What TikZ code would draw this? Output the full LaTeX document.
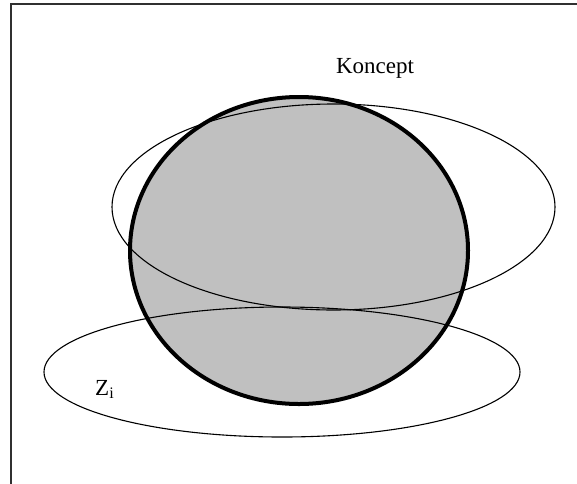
\documentclass[tikz,border=0pt]{standalone}
\usepackage{fontspec}
\setmainfont{Liberation Serif}
\definecolor{ballgray}{HTML}{C0C0C0}
\definecolor{framegray}{HTML}{303030}
\tikzset{
  framelines/.style={draw=framegray, line width=1.5pt},
  thinring/.style={draw=black, line width=1.1pt},
  ballrim/.style={draw=black, line width=4pt},
  label/.style={font=\fontsize{23}{26}\selectfont, inner sep=0pt}
}
\begin{document}
\begin{tikzpicture}[x=1pt,y=-1pt]
\useasboundingbox (0,0) rectangle (577,483);
\fill[white] (0,0) rectangle (577,483);
\draw[framelines] (11,490) -- (11,4) -- (590,4);
\fill[ballgray] (299,250.5) ellipse [x radius=169, y radius=153.5];
\draw[thinring] (333.5,207) ellipse [x radius=221.5, y radius=103];
\draw[thinring] (282,372) ellipse [x radius=238, y radius=65];
\draw[ballrim] (299,250.5) ellipse [x radius=169, y radius=153.5];
\node[label, anchor=base] (koncept) at (375,73) {Koncept};
\node[label, anchor=base west] (zi) at (95,395) {Z\textsubscript{i}};
\end{tikzpicture}
\end{document}
